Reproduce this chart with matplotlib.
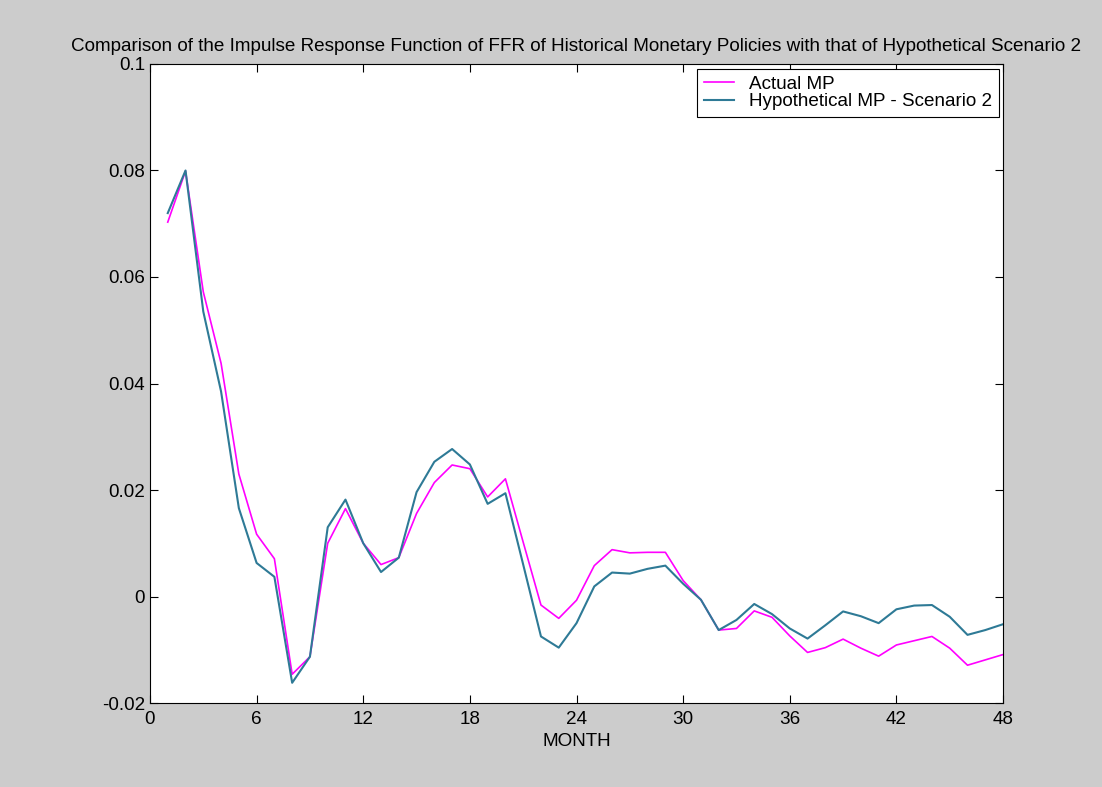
import numpy as np
import matplotlib
matplotlib.use("Agg")
import matplotlib.pyplot as plt
from matplotlib.ticker import FixedLocator, FixedFormatter

# impulse response of FFR, months 1..48
months = np.arange(1, 49)

actual_mp = [
    0.0703, 0.0799, 0.0572, 0.0438, 0.0230, 0.0117, 0.0071, -0.0146,
    -0.0113, 0.0100, 0.0165, 0.0100, 0.0060, 0.0073, 0.0156, 0.0214,
    0.0247, 0.0240, 0.0187, 0.0221, 0.0102, -0.0016, -0.0041, -0.0007,
    0.0058, 0.0088, 0.0082, 0.0083, 0.0083, 0.0030, -0.0006, -0.0063,
    -0.0060, -0.0027, -0.0039, -0.0074, -0.0105, -0.0096, -0.0080, -0.0097,
    -0.0112, -0.0091, -0.0083, -0.0075, -0.0097, -0.0129, -0.0119, -0.0109,
]

hypo_mp2 = [
    0.0720, 0.0800, 0.0535, 0.0385, 0.0166, 0.0063, 0.0037, -0.0162,
    -0.0113, 0.0130, 0.0182, 0.0100, 0.0046, 0.0073, 0.0196, 0.0253,
    0.0277, 0.0248, 0.0174, 0.0194, 0.0060, -0.0075, -0.0096, -0.0050,
    0.0019, 0.0045, 0.0043, 0.0052, 0.0058, 0.0024, -0.0006, -0.0063,
    -0.0044, -0.0014, -0.0033, -0.0060, -0.0079, -0.0054, -0.0028, -0.0037,
    -0.0050, -0.0024, -0.0017, -0.0016, -0.0038, -0.0072, -0.0063, -0.0052,
]

x_ticks = [0, 6, 12, 18, 24, 30, 36, 42, 48]
y_ticks = [-0.02, 0, 0.02, 0.04, 0.06, 0.08, 0.1]
y_tick_labels = ["-0.02", "0", "0.02", "0.04", "0.06", "0.08", "0.1"]

plt.rcParams['font.family'] = ['Liberation Sans', 'DejaVu Sans']
fs = 13.6

fig = plt.figure(figsize=(11.02, 7.87), dpi=100, facecolor="#cccccc")
ax = fig.add_axes([0.1361, 0.1067, 0.9102 - 0.1361, 0.9187 - 0.1067])
ax.set_facecolor("white")

ax.plot(months, actual_mp, color="#ff00ff", lw=1.2, label="Actual MP")
ax.plot(months, hypo_mp2, color="#2e7a96", lw=1.5, label="Hypothetical MP - Scenario 2")

ax.set_xlim(0, 48)
ax.set_ylim(-0.02, 0.1)
ax.xaxis.set_major_locator(FixedLocator(x_ticks))
ax.yaxis.set_major_locator(FixedLocator(y_ticks))
ax.yaxis.set_major_formatter(FixedFormatter(y_tick_labels))
ax.tick_params(direction="in", length=6, width=0.8, top=True, right=True,
               labelsize=fs, colors="black")
ax.tick_params(axis="x", pad=6)
ax.tick_params(axis="y", pad=3.5)
for s in ax.spines.values():
    s.set_linewidth(0.8)

ax.set_xlabel("MONTH", fontsize=fs, labelpad=3)
ax.set_title("Comparison of the Impulse Response Function of FFR of Historical "
             "Monetary Policies with that of Hypothetical Scenario 2",
             fontsize=fs, pad=9)

leg = ax.legend(loc="upper right", bbox_to_anchor=(0.995, 0.992), fontsize=fs,
                frameon=True, fancybox=False, framealpha=1, edgecolor="black",
                handlelength=1.6, borderpad=0.35, labelspacing=0.0,
                handletextpad=0.8, borderaxespad=0)
leg.get_frame().set_linewidth(0.8)

fig.savefig("out.png", dpi=100, facecolor=fig.get_facecolor())
